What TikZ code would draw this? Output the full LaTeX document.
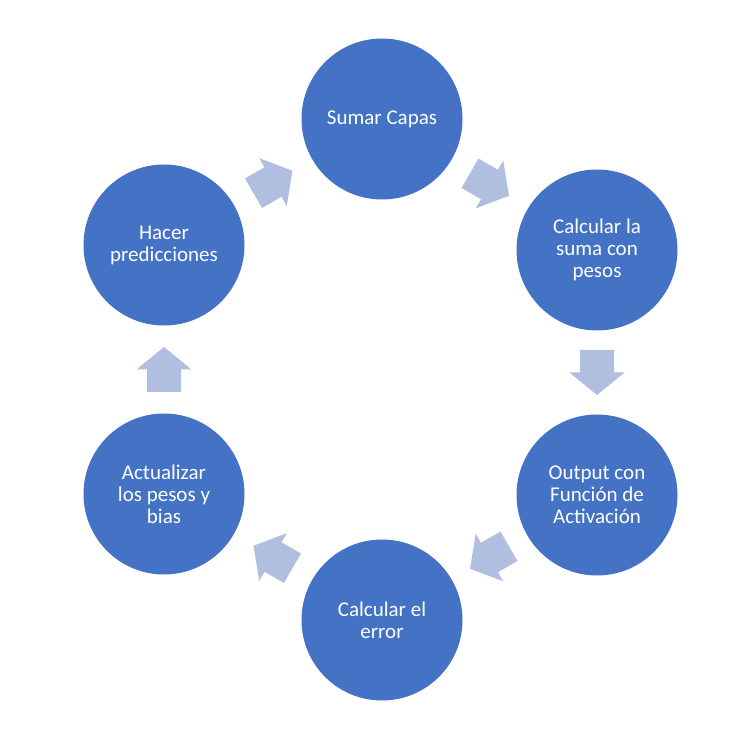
\documentclass[tikz,border=0pt]{standalone}
\usepackage{fontspec}
\setmainfont{Carlito}
\usetikzlibrary{calc}
\definecolor{circblue}{HTML}{4472C4}
\definecolor{arrowblue}{HTML}{B0BEE0}
\tikzset{
  stepcircle/.style={circle, fill=circblue, draw=none, minimum size=161pt, inner sep=0pt,
    text=white, align=center, font=\fontsize{21}{22}\selectfont},
  barrow/.pic={\fill[arrowblue] (-22.5,-17) -- (0,-17) -- (0,-27.5) -- (22.5,0) -- (0,27.5) -- (0,17) -- (-22.5,17) -- cycle;}
}
\begin{document}
\begin{tikzpicture}[x=1pt,y=1pt]
\useasboundingbox (0,0) rectangle (752,737);
\fill[white] (0,0) rectangle (752,737);
\node[stepcircle] (sc) at (382,618) {Sumar Capas};
\node[stepcircle] (cs) at (597,487) {Calcular la\\suma con\\pesos};
\node[stepcircle] (of) at (597,242) {Output con\\Función de\\Activación};
\node[stepcircle] (ce) at (382,117) {Calcular el\\error};
\node[stepcircle] (ap) at (164,243) {Actualizar\\los pesos y\\bias};
\node[stepcircle] (hp) at (164,492) {Hacer\\predicciones};
\pic[rotate=-30] at ($(sc)!0.5!(cs)$) {barrow};
\pic[rotate=-90] at ($(cs)!0.5!(of)$) {barrow};
\pic[rotate=210] at ($(of)!0.5!(ce)$) {barrow};
\pic[rotate=150] at ($(ce)!0.5!(ap)$) {barrow};
\pic[rotate=90] at ($(ap)!0.5!(hp)$) {barrow};
\pic[rotate=30] at ($(hp)!0.5!(sc)$) {barrow};
\end{tikzpicture}
\end{document}
